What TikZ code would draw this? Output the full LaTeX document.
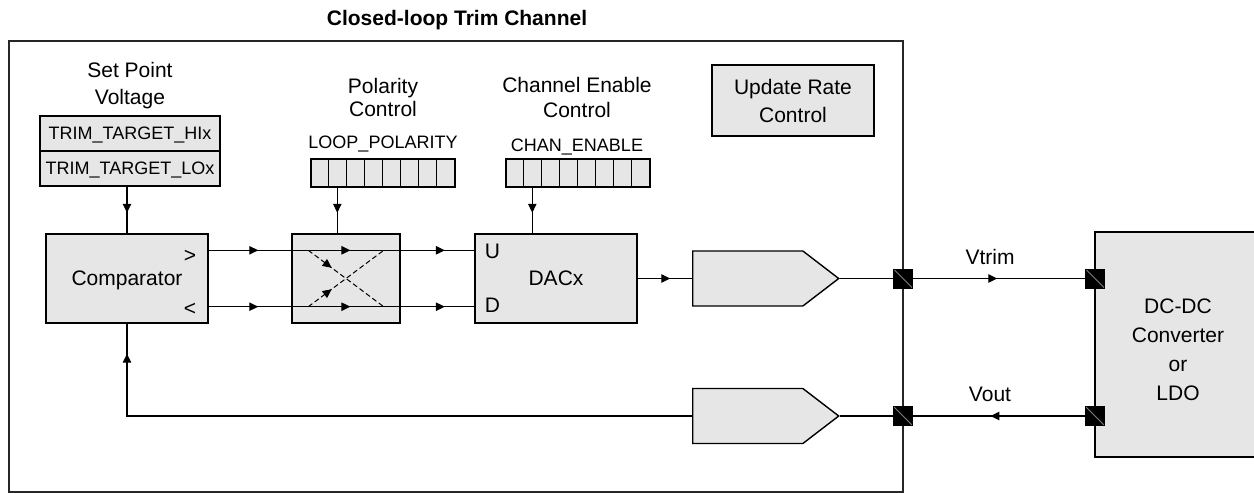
\documentclass[tikz,border=0pt]{standalone}
\usepackage{fontspec}
\setmainfont{Liberation Sans}
\usetikzlibrary{arrows.meta,decorations.markings,shapes.symbols,calc}
\definecolor{boxfill}{HTML}{E6E6E6}
\newcommand\fA{\fontsize{10.5}{14}\selectfont}
\newcommand\fB{\fontsize{9}{11}\selectfont}
\begin{document}
\begin{tikzpicture}[x=0.5pt,y=-0.5pt,
  ln/.style={line width=0.6pt},
  box/.style={draw, fill=boxfill, line width=0.7pt, inner sep=0pt, font=\fA, text depth=0pt},
  reg/.style={draw, fill=boxfill, line width=0.7pt, inner sep=0pt, font=\fB, text depth=0pt},
  lbl/.style={font=\fA, anchor=base, inner sep=0pt},
  rlbl/.style={font=\fB, anchor=base, inner sep=0pt},
  marrow/.style={postaction={decorate}, decoration={markings, mark=at position #1 with {\arrow{Triangle[length=4.5pt,width=4.2pt]}}}},
  pinsq/.style={fill=black, draw=black, line width=0.4pt, minimum size=9.5pt, inner sep=0pt,
     path picture={\draw[gray, line width=0.5pt] (path picture bounding box.north west) -- (path picture bounding box.south east);}},
  buf/.style={signal, signal to=east, signal pointer angle=75, draw, fill=boxfill, line width=0.7pt, minimum width=73pt, minimum height=27.5pt, inner sep=0pt, anchor=west},
  dsh/.style={dash pattern=on 2.5pt off 1.5pt, line width=0.5pt}
]
\useasboundingbox (0,0) rectangle (1254,493);

% title and outer box
\node[lbl, font=\fA\bfseries] (title) at (457,25) {Closed-loop Trim Channel};
\node[draw=black!85, line width=0.9pt, minimum width=447pt, minimum height=225.5pt, inner sep=0pt] (chan) at (456,266.5) {};

% set point
\node[lbl] (sp1) at (130,77) {Set Point};
\node[lbl] (sp2) at (130,104) {Voltage};
\node[reg, minimum width=90pt, minimum height=17.5pt] (thi) at (130,133.5) {TRIM\_TARGET\_HIx};
\node[reg, minimum width=90pt, minimum height=17.5pt] (tlo) at (130,168.5) {TRIM\_TARGET\_LOx};

% polarity control
\node[lbl] (pc1) at (383,93) {Polarity};
\node[lbl] (pc2) at (383,116) {Control};
\node[rlbl] (pclab) at (383,148) {LOOP\_POLARITY};
\node[reg, minimum width=72pt, minimum height=14pt] (polreg) at (383,173) {};
\foreach \i in {1,...,7} \draw[line width=0.6pt] ($(polreg.south west)+(\i*18,0)$) -- ($(polreg.north west)+(\i*18,0)$);

% channel enable
\node[lbl] (ce1) at (577,92) {Channel Enable};
\node[lbl] (ce2) at (577,117) {Control};
\node[rlbl] (celab) at (577,151) {CHAN\_ENABLE};
\node[reg, minimum width=72pt, minimum height=14pt] (chanreg) at (578,173) {};
\foreach \i in {1,...,7} \draw[line width=0.6pt] ($(chanreg.south west)+(\i*18,0)$) -- ($(chanreg.north west)+(\i*18,0)$);

% update rate
\node[box, align=center, minimum width=81pt, minimum height=35.5pt] (urc) at (793,100.5) {Update Rate\\Control};

% main blocks
\node[box, minimum width=81pt, minimum height=44.5pt] (comp) at (127,278.5) {Comparator};
\node[lbl] (gt) at (190,262) {>};
\node[lbl] (lt) at (190,315) {<};
\node[box, minimum width=54pt, minimum height=44.5pt] (pol) at (346,278.5) {};
\node[box, minimum width=81pt, minimum height=44.5pt] (dac) at (556,278.5) {DACx};
\node[lbl] (uu) at (492.5,258) {U};
\node[lbl] (dd) at (492.5,312) {D};

\node[buf] (b1) at (692,278.5) {};
\node[buf] (b2) at (692,416) {};

\node[box, minimum width=80.5pt, minimum height=112.5pt] (dc) at (1175.5,344.5) {};
\node[font=\fontsize{10.5}{14.5}\selectfont, align=center, inner sep=0pt] (dctxt) at (1178,350) {DC-DC\\Converter\\or\\LDO};

% pins
\node[pinsq] (p1) at (903,278.5) {};
\node[pinsq] (p2) at (1095,278.5) {};
\node[pinsq] (p3) at (903,416) {};
\node[pinsq] (p4) at (1095,416) {};

% labels on wires
\node[lbl] (vtrim) at (990,264) {Vtrim};
\node[lbl] (vout) at (990,401) {Vout};

% connectors
\draw[ln, marrow=0.56] (tlo.south -| comp.north) -- (comp.north);
\coordinate (pa) at ([xshift=13.5pt]polreg.south west);
\draw[ln, marrow=0.55] (pa) -- (pa |- pol.north);
\coordinate (ca) at ([xshift=13.5pt]chanreg.south west);
\draw[ln, marrow=0.55] (ca) -- (ca |- dac.north);

\coordinate (cgt) at ($(comp.north east)+(0,17)$);
\coordinate (clt) at ($(comp.south east)+(0,-17)$);
\draw[ln, marrow=0.6] (cgt) -- (cgt -| pol.west);
\draw[ln, marrow=0.54] (cgt -| pol.west) -- (cgt -| pol.east);
\draw[ln, marrow=0.6] (cgt -| pol.east) -- (cgt -| dac.west);
\draw[ln, marrow=0.6] (clt) -- (clt -| pol.west);
\draw[ln, marrow=0.54] (clt -| pol.west) -- (clt -| pol.east);
\draw[ln, marrow=0.6] (clt -| pol.east) -- (clt -| dac.west);

\coordinate (xtl) at ($(cgt -| pol.west)+(17,0)$);
\coordinate (xbl) at ($(clt -| pol.west)+(17,0)$);
\coordinate (xtr) at ($(cgt -| pol.east)+(-17,0)$);
\coordinate (xbr) at ($(clt -| pol.east)+(-17,0)$);
\draw[dsh, marrow=0.31] (xtl) -- (xbr);
\draw[dsh, marrow=0.31] (xbl) -- (xtr);

\draw[ln, marrow=0.6] (dac.east) -- (b1.west);
\draw[ln] (b1.east) -- (p1.west);
\draw[ln, marrow=0.49] (p1.east) -- (p2.west);
\draw[ln, marrow=0.55] (p4.west) -- (p3.east);
\draw[ln] (p3.west) -- (b2.east);
\draw[ln, marrow=-15pt] (b2.west) -- (comp.south |- b2.west) -- (comp.south);
\end{tikzpicture}
\end{document}
